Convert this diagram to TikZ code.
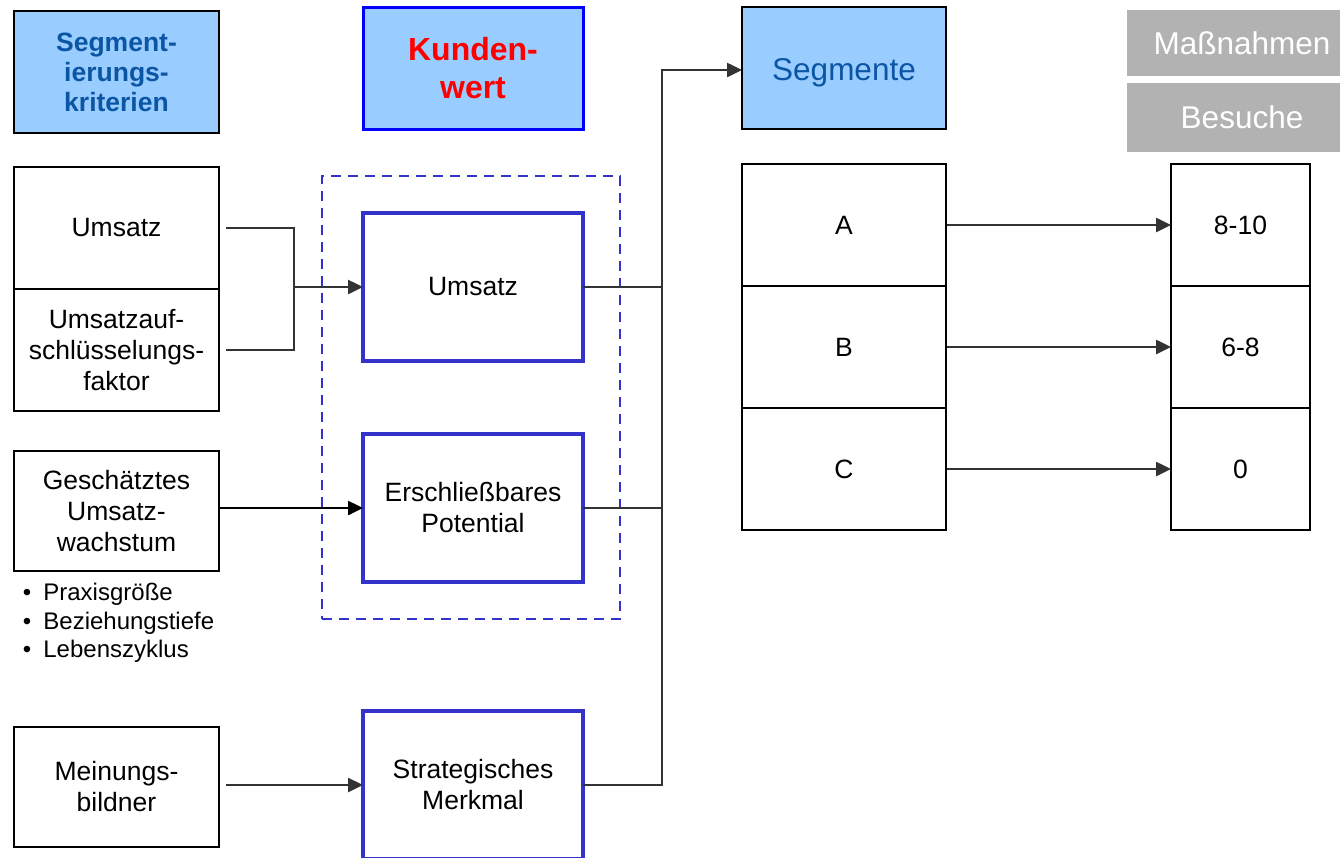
\documentclass[tikz,border=0pt]{standalone}
\usepackage{fontspec}
\setmainfont{Liberation Sans}
\usetikzlibrary{arrows.meta}
\definecolor{lblue}{HTML}{99CCFF}
\definecolor{segtxt}{HTML}{0B56A4}
\definecolor{mblue}{HTML}{3333CC}
\definecolor{pblue}{HTML}{0000FF}
\definecolor{gbox}{HTML}{B2B2B2}
\definecolor{conncol}{HTML}{333333}
\begin{document}
\begin{tikzpicture}[x=1pt,y=-1pt,
  every node/.style={inner sep=0pt,outer sep=0pt,align=center},
  txt/.style={font=\fontsize{26.5}{31}\selectfont},
  bbox/.style={draw=black,line width=2.5pt,txt},
  hbox/.style={bbox,fill=lblue},
  vbox/.style={draw=mblue,line width=3.5pt,txt,minimum width=220pt,minimum height=148pt},
  gray/.style={fill=gbox,text=white,font=\fontsize{31.5}{36}\selectfont,minimum width=230pt},
  conn/.style={draw=conncol,line width=2.5pt},
  arr/.style={conn,-{Triangle[length=15pt,width=14pt]}},
]
\useasboundingbox (0,0) rectangle (1340,857);

% header boxes
\node[hbox,minimum width=205pt,minimum height=122pt,text=segtxt,
      font=\bfseries\fontsize{26.5}{30}\selectfont] (seg) at (116.5,72) {Segment-\\ierungs-\\kriterien};
\node[hbox,draw=pblue,line width=3pt,minimum width=220pt,minimum height=122pt,text=red,
      font=\bfseries\fontsize{32}{38}\selectfont] (kw) at (473,68) {Kunden-\\wert};
\node[hbox,minimum width=204pt,minimum height=122pt,
      label={[yshift=-5pt,text=segtxt,font=\fontsize{31.5}{36}\selectfont]center:Segmente}] (sg) at (844,68) {};
\node[gray,minimum height=66pt] (mn) at (1242,43) {Maßnahmen};
\node[gray,minimum height=69pt] (bs) at (1242,117.5) {Besuche};

% left criteria
\node[bbox,minimum width=205pt,minimum height=122pt] (u1) at (116.5,228) {Umsatz};
\node[bbox,minimum width=205pt,minimum height=122pt] (u2) at (116.5,350) {Umsatzauf-\\schlüsselungs-\\faktor};
\node[bbox,minimum width=205pt,minimum height=120pt] (ge) at (116.5,511) {Geschätztes\\Umsatz-\\wachstum};
\node[anchor=west,align=left,font=\fontsize{24}{28.5}\selectfont] (bl) at (23,623)
  {\textbullet\hspace{12pt}Praxisgröße\\\textbullet\hspace{12pt}Beziehungstiefe\\\textbullet\hspace{12pt}Lebenszyklus};
\node[bbox,minimum width=205pt,minimum height=120pt] (mb) at (116.5,787) {Meinungs-\\bildner};

% customer value group
\node[draw=mblue,line width=2.5pt,dash pattern=on 10pt off 7pt,minimum width=298pt,minimum height=443pt] (grp) at (471,397.5) {};
\node[vbox] (um) at (473,287) {Umsatz};
\node[vbox] (ep) at (473,508) {Erschließbares\\Potential};
\node[vbox] (sm) at (473,785) {Strategisches\\Merkmal};

% segments
\node[bbox,minimum width=204pt,minimum height=122pt] (a) at (844,225) {A};
\node[bbox,minimum width=204pt,minimum height=122pt] (b) at (844,347) {B};
\node[bbox,minimum width=204pt,minimum height=122pt] (c) at (844,469) {C};
\node[bbox,minimum width=139pt,minimum height=122pt] (n1) at (1240.5,225) {8-10};
\node[bbox,minimum width=139pt,minimum height=122pt] (n2) at (1240.5,347) {6-8};
\node[bbox,minimum width=139pt,minimum height=122pt] (n3) at (1240.5,469) {0};

% connectors
\coordinate (j1) at (294,287);
\coordinate (bus) at (662,70);
\draw[conn] ([xshift=7pt]u1.east) -| (j1);
\draw[conn] ([xshift=7pt]u2.east) -| (j1);
\draw[arr] (j1) -- (um.west);
\draw[arr,draw=black] (ge.east |- ep.west) -- (ep.west);
\draw[arr] ([xshift=7pt]mb.east |- sm.west) -- (sm.west);
\draw[conn] (um.east) -- (um.east -| bus);
\draw[conn] (ep.east) -- (ep.east -| bus);
\draw[arr] (sm.east) -| (bus) -- (bus -| sg.west);
\draw[arr] ([xshift=1pt]a.east) -- (n1.west);
\draw[arr] ([xshift=1pt]b.east) -- (n2.west);
\draw[arr] ([xshift=1pt]c.east) -- (n3.west);
\end{tikzpicture}
\end{document}
